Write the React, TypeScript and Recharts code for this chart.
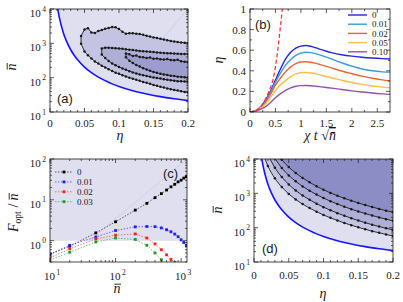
import React from 'react';
import { ComposedChart, Line, Area, XAxis, YAxis } from 'recharts';

// ================= DATA =================
// Boundary curve n̄(η) shared by panels (a) and (d)
const boundaryEta = [0.0105, 0.011, 0.012, 0.014, 0.016, 0.018, 0.02, 0.025, 0.03, 0.035, 0.04, 0.05, 0.06, 0.07, 0.08, 0.09, 0.1, 0.12, 0.14, 0.16, 0.18, 0.2];
const boundaryN = [12500, 10800, 8230, 5130, 3470, 2480, 1850, 1030, 650, 450, 330, 203, 140, 104, 82, 66, 55, 41.5, 33.5, 28, 24.3, 21.5];

// Panel (a) contours
const c1Eta = [0.045, 0.05, 0.055, 0.06, 0.065, 0.07, 0.075, 0.08, 0.085, 0.09, 0.095, 0.1, 0.105, 0.11, 0.115, 0.12, 0.125, 0.13, 0.135, 0.14, 0.145, 0.15, 0.155, 0.16, 0.165, 0.17, 0.175, 0.18, 0.185, 0.19, 0.195, 0.2];
const c1Upper = [1640, 2540, 2760, 2070, 2010, 2280, 2440, 2650, 2810, 2970, 2920, 2600, 2170, 1910, 1960, 1980, 1910, 1860, 1780, 1650, 1570, 1490, 1440, 1350, 1290, 1230, 1170, 1130, 1090, 1060, 1040, 1030];
const c1Lower = [980, 577, 448, 361, 297, 257, 224, 199, 176, 157, 140, 129, 117.5, 108, 100, 93.7, 86.7, 81, 75, 70.6, 66, 61.4, 57.8, 54.3, 51.4, 48.5, 46.2, 43.9, 42.1, 40.3, 38.5, 36.8];

const c2Eta = [0.075, 0.08, 0.085, 0.09, 0.095, 0.1, 0.105, 0.11, 0.115, 0.12, 0.125, 0.13, 0.135, 0.14, 0.145, 0.15, 0.155, 0.16, 0.165, 0.17, 0.175, 0.18, 0.185, 0.19, 0.195, 0.2];
const c2Upper = [710, 745, 745, 733, 722, 710, 690, 667, 655, 640, 622, 600, 590, 578, 567, 556, 545, 534, 523, 517, 510, 503, 497, 492, 490, 486];
const c2Lower = [469, 372, 306, 260, 229, 205, 185, 169, 155, 142, 132, 124, 117.5, 112, 106, 101, 97, 94, 90, 87, 84, 82, 79, 78, 77, 76];

const c3Eta = [0.11, 0.115, 0.12, 0.125, 0.13, 0.135, 0.14, 0.145, 0.15, 0.155, 0.16, 0.165, 0.17, 0.175, 0.18, 0.185, 0.19, 0.195, 0.2];
const c3Upper = [504, 482, 426, 442, 403, 392, 375, 386, 356, 364, 342, 336, 347, 325, 323, 330, 302, 291, 280];
const c3Lower = [392, 310, 266, 233, 211, 189, 172, 159, 147, 138, 130, 124, 119, 114, 111, 107, 105, 103, 101];

// Panel (b)
const bX = [0, 0.1, 0.2, 0.3, 0.4, 0.5, 0.6, 0.7, 0.8, 0.9, 1.0, 1.1, 1.2, 1.3, 1.4, 1.5, 1.6, 1.8, 2.0, 2.2, 2.4, 2.6, 2.75];
const bEta0 = [0, 0.01, 0.045, 0.11, 0.2, 0.31, 0.42, 0.515, 0.58, 0.62, 0.64, 0.645, 0.637, 0.622, 0.605, 0.59, 0.577, 0.556, 0.542, 0.532, 0.524, 0.518, 0.515];
const bEta001 = [0, 0.01, 0.042, 0.1, 0.19, 0.29, 0.38, 0.455, 0.51, 0.55, 0.572, 0.58, 0.576, 0.565, 0.55, 0.533, 0.515, 0.478, 0.445, 0.418, 0.4, 0.39, 0.387];
const bEta002 = [0, 0.01, 0.04, 0.09, 0.17, 0.26, 0.33, 0.39, 0.438, 0.47, 0.485, 0.488, 0.483, 0.472, 0.458, 0.443, 0.428, 0.398, 0.372, 0.348, 0.328, 0.312, 0.302];
const bEta005 = [0, 0.008, 0.035, 0.075, 0.14, 0.21, 0.265, 0.305, 0.345, 0.37, 0.381, 0.383, 0.379, 0.37, 0.358, 0.345, 0.333, 0.308, 0.286, 0.268, 0.253, 0.242, 0.236];
const bEta010 = [0, 0.006, 0.025, 0.05, 0.09, 0.138, 0.178, 0.21, 0.235, 0.25, 0.256, 0.257, 0.255, 0.25, 0.244, 0.238, 0.232, 0.218, 0.205, 0.194, 0.184, 0.176, 0.171];
const bRedX = [0, 0.1, 0.2, 0.3, 0.35, 0.4, 0.45, 0.5, 0.55, 0.6, 0.64];
const bRedY = [0, 0.01, 0.045, 0.12, 0.175, 0.235, 0.31, 0.44, 0.62, 0.84, 1.02];
const bLegend = ['0', '0.01', '0.02', '0.05', '0.10'];

// Panel (c)
const cN = [10, 20, 50, 100, 200, 300, 400, 500, 600, 700, 800, 900, 1000, 1100, 1200];
const cF0 = [0.46, 0.73, 1.55, 2.9, 5.6, 8.2, 11.3, 14.2, 17.4, 20.8, 24, 27.6, 30.3, 34, 37];
const cF001 = [0.47, 0.77, 1.23, 1.77, 2.18, 2.22, 2.2, 2.05, 1.85, 1.65, 1.45, 1.25, 1.05, 0.9, 0.76];
const cF002 = [0.38, 0.63, 1.1, 1.36, 1.46, 1.16, 0.83, 0.6, 0.45, 0.35, 0.29];
const cF003 = [0.33, 0.52, 0.93, 1.16, 1.07, 0.77, 0.5, 0.34, 0.25];
const cLegend = ['0', '0.01', '0.02', '0.03'];

// Panel (d)
const d1Eta = [0.038, 0.04, 0.05, 0.06, 0.07, 0.08, 0.09, 0.1, 0.11, 0.12, 0.13, 0.14, 0.15, 0.16, 0.17, 0.18, 0.19, 0.2];
const d1N = [10600, 9500, 5800, 3900, 2800, 2100, 1600, 1270, 1030, 850, 715, 610, 525, 455, 400, 352, 313, 280];
const d2Eta = [0.03, 0.04, 0.05, 0.06, 0.07, 0.08, 0.09, 0.1, 0.11, 0.12, 0.13, 0.14, 0.15, 0.16, 0.17, 0.18, 0.19, 0.2];
const d2N = [10500, 5450, 3330, 2230, 1590, 1190, 920, 727, 590, 487, 408, 346, 297, 258, 226, 199, 177, 158];
const d3Eta = [0.022, 0.03, 0.04, 0.05, 0.06, 0.07, 0.08, 0.09, 0.1, 0.11, 0.12, 0.13, 0.14, 0.15, 0.16, 0.17, 0.18, 0.19, 0.2];
const d3N = [11050, 5580, 2970, 1815, 1213, 864, 645, 500, 396, 322, 265, 222, 188, 161, 140, 122, 108, 96, 86];
const d4Eta = [0.015, 0.02, 0.03, 0.04, 0.05, 0.06, 0.07, 0.08, 0.09, 0.1, 0.11, 0.12, 0.13, 0.14, 0.15, 0.16, 0.17, 0.18, 0.19, 0.2];
const d4N = [11230, 6250, 2740, 1520, 963, 665, 485, 371, 292, 234, 193, 162, 137, 118, 102, 90, 79, 71, 63.5, 57];

// Tick values
const etaMajor = [0, 0.05, 0.1, 0.15, 0.2];
const etaMinor = [0.01, 0.02, 0.03, 0.04, 0.06, 0.07, 0.08, 0.09, 0.11, 0.12, 0.13, 0.14, 0.16, 0.17, 0.18, 0.19];
const nbarMajor = [10, 100, 1000, 10000];
const mantissas = [2, 3, 4, 5, 6, 7, 8, 9];
const chiMajor = [0, 0.5, 1, 1.5, 2, 2.5];
const chiMinor = [0.25, 0.75, 1.25, 1.75, 2.25];
const bEtaMajor = [0, 0.2, 0.4, 0.6, 0.8, 1];
const bEtaMinor = [0.1, 0.3, 0.5, 0.7, 0.9];
const cNMajor = [10, 100, 1000];
const cFMajor = [1, 10, 100];
const cFLowMinor = [0.3, 0.4, 0.5, 0.6, 0.7, 0.8, 0.9];

// ================= STYLE =================
const SERIF = '"Liberation Serif", "Times New Roman", "DejaVu Serif", serif';
const SANS = '"Liberation Sans", Arial, "DejaVu Sans", sans-serif';
const INK = '#1a1a1a';
const SHADE = '#4b4ba5';
const SHADE_OP = 0.18;
const BLUE = '#1414ff';
const bColors = ['#2424e6', '#3d9ad8', '#e8653a', '#f4c046', '#9350b0'];
const cColors = ['#000000', '#1f1fff', '#ff1f1f', '#1f961f'];
const serifStyle = { fontFamily: SERIF };
const sansStyle = { fontFamily: SANS };
const TICK_FS = 11;
const SUP_FS = 7.5;

// ================= HELPERS =================
const near = (a: number, b: number) => Math.abs(a - b) < 1e-9 * Math.max(1, Math.abs(a), Math.abs(b));
const minorsOf = (majors: number[]) => majors.slice(0, -1).flatMap((d) => mantissas.map((m) => m * d));
const nbarTicks = [...nbarMajor, ...minorsOf(nbarMajor)].sort((a, b) => a - b);
const etaTicks = [...etaMajor, ...etaMinor].sort((a, b) => a - b);
const chiTicks = [...chiMajor, ...chiMinor].sort((a, b) => a - b);
const bEtaTicks = [...bEtaMajor, ...bEtaMinor].sort((a, b) => a - b);
const cNTicks = [...cNMajor, ...minorsOf(cNMajor)].sort((a, b) => a - b);
const cFTicks = [...cFLowMinor, ...cFMajor, ...minorsOf(cFMajor)].sort((a, b) => a - b);

const pts = (xs: number[], ys: number[]) => ys.map((y, i) => ({ x: xs[i], y }));
const band = (xs: number[], lo: number[], hi: number[]) => xs.map((x, i) => ({ x, lo: lo[i], hi: hi[i] }));
const ring = (xs: number[], lo: number[], hi: number[]) => [...pts(xs, lo).reverse(), ...pts(xs, hi)];

type TickCfg = { majors: number[]; span: number; label: (v: number, x: number, y: number) => React.ReactNode };

function YTick(props: any) {
  const { x, y, payload, cfg } = props;
  const v = payload?.value;
  const major = cfg.majors.some((m: number) => near(m, v));
  const len = major ? 4 : 2;
  return (
    <g>
      <line x1={x} y1={y} x2={x + len} y2={y} stroke={INK} strokeWidth={0.7} />
      <line x1={x + cfg.span} y1={y} x2={x + cfg.span - len} y2={y} stroke={INK} strokeWidth={0.7} />
      {major ? cfg.label(v, x, y) : null}
    </g>
  );
}

function XTick(props: any) {
  const { x, y, payload, cfg } = props;
  const v = payload?.value;
  const major = cfg.majors.some((m: number) => near(m, v));
  const len = major ? 4 : 2;
  return (
    <g>
      <line x1={x} y1={y} x2={x} y2={y - len} stroke={INK} strokeWidth={0.7} />
      <line x1={x} y1={y - cfg.span} x2={x} y2={y - cfg.span + len} stroke={INK} strokeWidth={0.7} />
      {major ? cfg.label(v, x, y) : null}
    </g>
  );
}

const logYLabel = (v: number, x: number, y: number) => (
  <text x={x - 4} y={y + 8} textAnchor="end" style={serifStyle} fontSize={TICK_FS} fill={INK}>
    10<tspan dx={1.5} dy={-5.5} fontSize={SUP_FS}>{Math.round(Math.log10(v))}</tspan>
  </text>
);
const linYLabel = (v: number, x: number, y: number) => (
  <text x={x - 4} y={y + 4} textAnchor="end" style={serifStyle} fontSize={TICK_FS} fill={INK}>{String(v)}</text>
);
const linXLabel = (dy: number) => (v: number, x: number, y: number) => (
  <text x={x} y={y + dy} textAnchor="middle" style={serifStyle} fontSize={TICK_FS} fill={INK}>{String(v)}</text>
);
const logXLabel = (dy: number) => (v: number, x: number, y: number) => (
  <text x={x + 2} y={y + dy} textAnchor="middle" style={serifStyle} fontSize={TICK_FS} fill={INK}>
    10<tspan dx={1.5} dy={-5.5} fontSize={SUP_FS}>{Math.round(Math.log10(v))}</tspan>
  </text>
);

const circleDot = (r: number, fill: string) => (p: any) =>
  p.cx == null || p.cy == null ? <g key={p.key ?? p.index} /> : <circle key={p.key ?? p.index} cx={p.cx} cy={p.cy} r={r} fill={fill} />;
const squareDot = (s: number, fill: string) => (p: any) =>
  p.cx == null || p.cy == null ? <g key={p.key ?? p.index} /> : <rect key={p.key ?? p.index} x={p.cx - s / 2} y={p.cy - s / 2} width={s} height={s} fill={fill} />;

const axisCommon = { tickSize: 0, tickMargin: 0, axisLine: false, tickLine: false, interval: 0 as const, allowDataOverflow: true };

// ================= PANELS =================
function PanelA() {
  const xCfg: TickCfg = { majors: etaMajor, span: 103, label: linXLabel(15) };
  const yCfg: TickCfg = { majors: nbarMajor, span: 138, label: logYLabel };
  return (
    <div style={{ position: 'absolute', left: 0, top: 0 }}>
      <ComposedChart width={200} height={150} margin={{ top: 9, right: 12, bottom: 0, left: 0 }}>
        <XAxis type="number" dataKey="x" domain={[0, 0.2]} ticks={etaTicks} height={38} tick={(p: any) => <XTick {...p} cfg={xCfg} />} {...axisCommon} />
        <YAxis type="number" scale="log" domain={[10, 10000]} ticks={nbarTicks} width={50} tick={(p: any) => <YTick {...p} cfg={yCfg} />} {...axisCommon} />
        <Area data={pts(boundaryEta, boundaryN)} dataKey="y" baseValue={10000} type="monotone" fill={SHADE} fillOpacity={SHADE_OP} stroke="none" isAnimationActive={false} />
        <Area data={band(c1Eta, c1Lower, c1Upper)} dataKey={(d: any) => [d.lo, d.hi]} type="linear" fill={SHADE} fillOpacity={SHADE_OP} stroke="none" isAnimationActive={false} />
        <Area data={band(c2Eta, c2Lower, c2Upper)} dataKey={(d: any) => [d.lo, d.hi]} type="linear" fill={SHADE} fillOpacity={SHADE_OP} stroke="none" isAnimationActive={false} />
        <Area data={band(c3Eta, c3Lower, c3Upper)} dataKey={(d: any) => [d.lo, d.hi]} type="linear" fill={SHADE} fillOpacity={SHADE_OP} stroke="none" isAnimationActive={false} />
        <Line data={[{ x: 0.16, y: 1150 }, { x: 0.2, y: 10000 }]} dataKey="y" stroke="#c4c4dc" strokeWidth={0.6} dot={false} isAnimationActive={false} />
        <Line data={ring(c1Eta, c1Lower, c1Upper)} dataKey="y" type="linear" stroke={INK} strokeWidth={0.9} dot={circleDot(1.25, INK)} isAnimationActive={false} />
        <Line data={ring(c2Eta, c2Lower, c2Upper)} dataKey="y" type="linear" stroke={INK} strokeWidth={0.9} dot={circleDot(1.25, INK)} isAnimationActive={false} />
        <Line data={ring(c3Eta, c3Lower, c3Upper)} dataKey="y" type="linear" stroke={INK} strokeWidth={0.9} dot={circleDot(1.25, INK)} isAnimationActive={false} />
        <Line data={pts(boundaryEta, boundaryN)} dataKey="y" type="monotone" stroke={BLUE} strokeWidth={1.6} dot={false} isAnimationActive={false} />
      </ComposedChart>
    </div>
  );
}

function PanelB() {
  const xCfg: TickCfg = { majors: chiMajor, span: 103, label: linXLabel(15) };
  const yCfg: TickCfg = { majors: bEtaMajor, span: 140, label: linYLabel };
  const rows = bX.map((x, i) => ({ x, s0: bEta0[i], s1: bEta001[i], s2: bEta002[i], s3: bEta005[i], s4: bEta010[i] }));
  const keys = ['s0', 's1', 's2', 's3', 's4'];
  return (
    <div style={{ position: 'absolute', left: 200, top: 0 }}>
      <ComposedChart width={203} height={150} data={rows} margin={{ top: 9, right: 13, bottom: 0, left: 0 }}>
        <XAxis type="number" dataKey="x" domain={[0, 2.75]} ticks={chiTicks} height={38} tick={(p: any) => <XTick {...p} cfg={xCfg} />} {...axisCommon} />
        <YAxis type="number" domain={[0, 1]} ticks={bEtaTicks} width={50} tick={(p: any) => <YTick {...p} cfg={yCfg} />} {...axisCommon} />
        {keys.map((k, i) => (
          <Line key={k} dataKey={k} type="monotone" stroke={bColors[i]} strokeWidth={1.4} dot={false} isAnimationActive={false} />
        ))}
        <Line data={pts(bRedX, bRedY)} dataKey="y" type="monotone" stroke="#ff2a2a" strokeWidth={1.2} strokeDasharray="4 2.5" dot={false} isAnimationActive={false} />
      </ComposedChart>
    </div>
  );
}

function PanelC() {
  const xCfg: TickCfg = { majors: cNMajor, span: 103, label: logXLabel(18) };
  const yCfg: TickCfg = { majors: cFMajor, span: 137, label: logYLabel };
  const series = [cF0, cF001, cF002, cF003];
  return (
    <div style={{ position: 'absolute', left: 0, top: 150 }}>
      <ComposedChart width={200} height={152} margin={{ top: 9, right: 13, bottom: 0, left: 0 }}>
        <XAxis type="number" dataKey="x" scale="log" domain={[10, 1230]} ticks={cNTicks} height={40} tick={(p: any) => <XTick {...p} cfg={xCfg} />} {...axisCommon} />
        <YAxis type="number" scale="log" domain={[0.3, 100]} ticks={cFTicks} width={50} tick={(p: any) => <YTick {...p} cfg={yCfg} />} {...axisCommon} />
        <Area data={[{ x: 10, y: 1 }, { x: 1230, y: 1 }]} dataKey="y" baseValue={100} type="linear" fill={SHADE} fillOpacity={SHADE_OP} stroke="none" isAnimationActive={false} />
        <Line data={[{ x: 40, y: 1 }, { x: 1230, y: 100 }]} dataKey="y" stroke="#c4c4dc" strokeWidth={0.6} dot={false} isAnimationActive={false} />
        {series.map((s, i) => (
          <Line key={i} data={pts(cN, s)} dataKey="y" type="linear" stroke={cColors[i]} strokeOpacity={0.75} strokeWidth={0.8} strokeDasharray="1.5 1.5" dot={squareDot(2.8, cColors[i])} isAnimationActive={false} />
        ))}
      </ComposedChart>
    </div>
  );
}

function PanelD() {
  const xCfg: TickCfg = { majors: etaMajor, span: 103, label: linXLabel(17) };
  const yCfg: TickCfg = { majors: nbarMajor, span: 139, label: logYLabel };
  const curves = [pts(d4Eta, d4N), pts(d3Eta, d3N), pts(d2Eta, d2N), pts(d1Eta, d1N)];
  return (
    <div style={{ position: 'absolute', left: 200, top: 150 }}>
      <ComposedChart width={203} height={152} margin={{ top: 9, right: 10, bottom: 0, left: 0 }}>
        <XAxis type="number" dataKey="x" domain={[0, 0.2]} ticks={etaTicks} height={40} tick={(p: any) => <XTick {...p} cfg={xCfg} />} {...axisCommon} />
        <YAxis type="number" scale="log" domain={[10, 10000]} ticks={nbarTicks} width={54} tick={(p: any) => <YTick {...p} cfg={yCfg} />} {...axisCommon} />
        <Area data={pts(boundaryEta, boundaryN)} dataKey="y" baseValue={10000} type="monotone" fill={SHADE} fillOpacity={SHADE_OP} stroke="none" isAnimationActive={false} />
        {curves.map((c, i) => (
          <Area key={'a' + i} data={c} dataKey="y" baseValue={10000} type="monotone" fill={SHADE} fillOpacity={SHADE_OP} stroke="none" isAnimationActive={false} />
        ))}
        {curves.map((c, i) => (
          <Line key={'l' + i} data={c} dataKey="y" type="monotone" stroke={INK} strokeWidth={0.9} dot={circleDot(1.25, INK)} isAnimationActive={false} />
        ))}
        <Line data={pts(boundaryEta, boundaryN)} dataKey="y" type="monotone" stroke={BLUE} strokeWidth={1.6} dot={false} isAnimationActive={false} />
      </ComposedChart>
    </div>
  );
}

// italic n with a bar drawn above it
function NBar({ x, y, rotate }: { x: number; y: number; rotate?: boolean }) {
  return (
    <g transform={`translate(${x},${y})${rotate ? ' rotate(-90)' : ''}`}>
      <text x={0} y={0} textAnchor="middle" style={serifStyle} fontStyle="italic" fontSize={14} fill={INK}>n</text>
      <line x1={-2.6} x2={4} y1={-8.8} y2={-8.8} stroke={INK} strokeWidth={0.9} />
    </g>
  );
}

function Overlay() {
  const frames = [
    [50, 9, 138, 103],
    [250, 9, 140, 103],
    [50, 159, 137, 103],
    [254, 159, 139, 103],
  ];
  const nbar = 'n\u0304';
  return (
    <svg width={403} height={302} style={{ position: 'absolute', left: 0, top: 0, pointerEvents: 'none' }}>
      {frames.map(([x, y, w, h], i) => (
        <rect key={i} x={x} y={y} width={w} height={h} fill="none" stroke={INK} strokeWidth={0.8} />
      ))}
      {/* panel labels */}
      <text x={57} y={103} style={sansStyle} fontSize={13} fill={INK}>(a)</text>
      <text x={255} y={29} style={sansStyle} fontSize={13} fill={INK}>(b)</text>
      <text x={163} y={178} style={sansStyle} fontSize={13} fill={INK}>(c)</text>
      <text x={262} y={253} style={sansStyle} fontSize={13} fill={INK}>(d)</text>
      {/* axis labels */}
      <text x={120} y={140} textAnchor="middle" style={serifStyle} fontStyle="italic" fontSize={14} fill={INK}>η</text>
      <NBar x={16} y={67} rotate />
      <text transform="translate(223,60) rotate(-90)" textAnchor="middle" style={serifStyle} fontStyle="italic" fontSize={14} fill={INK}>η</text>
      <text x={320} y={140} textAnchor="middle" style={serifStyle} fontSize={14} fill={INK}>
        <tspan fontStyle="italic">χ t </tspan>
        <tspan>√</tspan>
        <tspan fontStyle="italic" textDecoration="overline">{nbar}</tspan>
      </text>
      <g transform="translate(18,213) rotate(-90)">
        <text x={9.5} y={0} textAnchor="end" style={serifStyle} fontSize={14} fill={INK}>
          <tspan fontStyle="italic">F</tspan>
          <tspan fontSize={9.5} dy={3}>opt</tspan>
          <tspan dy={-3} dx={4}>/</tspan>
        </text>
        <NBar x={16} y={0} />
      </g>
      <NBar x={117} y={293} />
      <text x={323} y={298} textAnchor="middle" style={serifStyle} fontStyle="italic" fontSize={14} fill={INK}>η</text>
      <NBar x={222} y={210} rotate />
      {/* legend (b) */}
      {bLegend.map((t, i) => (
        <g key={t}>
          <line x1={348} x2={367} y1={15 + i * 9.2} y2={15 + i * 9.2} stroke={bColors[i]} strokeWidth={1.4} />
          <text x={372} y={18.2 + i * 9.2} style={serifStyle} fontSize={9} fill={INK}>{t}</text>
        </g>
      ))}
      {/* legend (c) */}
      {cLegend.map((t, i) => (
        <g key={t}>
          <line x1={55} x2={73} y1={172 + i * 9.9} y2={172 + i * 9.9} stroke={cColors[i]} strokeOpacity={0.75} strokeWidth={0.8} strokeDasharray="1.5 1.5" />
          <rect x={64 - 1.4} y={172 + i * 9.9 - 1.4} width={2.8} height={2.8} fill={cColors[i]} />
          <text x={77} y={175.2 + i * 9.9} style={serifStyle} fontSize={9} fill={INK}>{t}</text>
        </g>
      ))}
    </svg>
  );
}

export default function App() {
  return (
    <div style={{ position: 'absolute', left: 0, top: 0, width: 403, height: 302, background: '#fff', overflow: 'hidden' }}>
      <PanelA />
      <PanelB />
      <PanelC />
      <PanelD />
      <Overlay />
    </div>
  );
}
